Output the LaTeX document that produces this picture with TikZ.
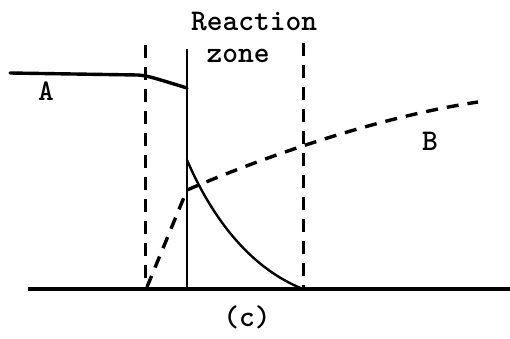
\documentclass[tikz,border=0pt]{standalone}
\begin{document}
\begin{tikzpicture}[x=1pt,y=-1pt,
  curve/.style={line width=3.4pt,line cap=round},
  thin curve/.style={line width=2.4pt},
  dashcurve/.style={line width=3.4pt,dash pattern=on 12pt off 9pt},
  zoneline/.style={line width=3pt,dash pattern=on 13pt off 9pt},
  lbl/.style={font=\ttfamily\bfseries\fontsize{30}{33}\selectfont,inner sep=0pt,anchor=base}]
\useasboundingbox (0,0) rectangle (510,338);
% base line
\coordinate (b0) at (28,289);
\coordinate (b1) at (510,289);
\draw[line width=3.4pt] (b0) -- (b1);
% zone boundaries
\coordinate (l0) at (145,45); \coordinate (l1) at (145,289);
\coordinate (m0) at (187,49); \coordinate (m1) at (187,289);
\coordinate (r0) at (303,43); \coordinate (r1) at (303,289);
\draw[zoneline] (l0) -- (l1);
\draw[line width=2.8pt] (m0) -- (m1);
\draw[zoneline] (r0) -- (r1);
% curve A
\coordinate (a0) at (10,73);
\coordinate (a1) at (138,75);
\coordinate (a2) at (187,88);
\draw[curve] (a0) -- (a1) .. controls (148,76) .. (a2);
% decay curve
\coordinate (d0) at (187,160);
\draw[thin curve] (d0) .. controls (212,218) and (250,268) .. (r1);
% curve B
\coordinate (c0) at (147,287);
\coordinate (c1) at (187,190);
\coordinate (c2) at (478,102);
\draw[dashcurve] (c0) -- (c1) .. controls (280,150) and (390,115) .. (c2);
% labels
\node[lbl] (A) at (46,100) {A};
\node[lbl] (B) at (430,150) {B};
\node[lbl] (R) at (254,30) {Reaction};
\node[lbl] (Z) at (238,62) {zone};
\node[lbl] (C) at (247,326) {(c)};
\end{tikzpicture}
\end{document}
